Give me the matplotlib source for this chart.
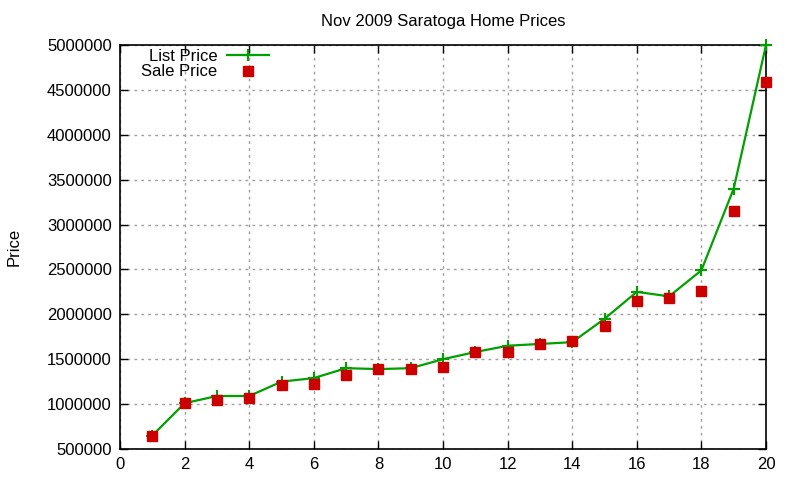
"""Saratoga home prices, Nov 2009"""
import matplotlib
matplotlib.use('Agg')
import matplotlib.pyplot as plt
import matplotlib.ticker as ticker

plt.rcParams['font.family'] = ['Liberation Sans', 'DejaVu Sans']

homes = list(range(1, 21))
list_price = [650000, 1010000, 1090000, 1090000, 1250000, 1290000, 1400000, 1390000, 1400000, 1500000,
              1580000, 1650000, 1670000, 1690000, 1950000, 2250000, 2200000, 2490000, 3400000, 5000000]
sale_price = [645000, 1010000, 1045000, 1070000, 1213000, 1225000, 1325000, 1390000, 1390000, 1415000,
              1580000, 1580000, 1670000, 1700000, 1870000, 2150000, 2180000, 2260000, 3150000, 4590000]

GREEN = '#00a000'
RED = '#cc0000'


def plot_prices():
	fig = plt.figure(figsize=(8, 4.8), dpi=100)
	ax = fig.add_axes([0.15, 0.0646, 0.8075, 0.8417])

	ax.plot(homes, list_price, color=GREEN, lw=1.6, marker='+', ms=9, mew=1.5, label='List Price',
	        clip_on=False, zorder=3)
	ax.plot(homes, sale_price, ls='none', color=RED, marker='s', ms=6.5, label='Sale Price',
	        clip_on=False, zorder=4)

	ax.set_xlim(0, 20)
	ax.set_ylim(500000, 5000000)
	ax.set_xticks(range(0, 21, 2))
	ax.set_yticks(range(500000, 5000001, 500000))
	ax.yaxis.set_major_formatter(ticker.FuncFormatter(lambda v, p: '%d' % v))
	ax.tick_params(direction='in', top=True, right=True, labelsize=12, length=6, width=1, pad=6)

	ax.grid(True, color='#a0a0a0', ls=(0, (2, 3)), lw=1)
	for side in ax.spines.values():
		side.set_linewidth(1.2)

	ax.set_title('Nov 2009 Saratoga Home Prices', fontsize=12, pad=14)
	ax.set_ylabel('Price', fontsize=12, labelpad=18)

	ax.legend(loc='upper left', bbox_to_anchor=(0.015, 1.02), frameon=False, markerfirst=False,
	          fontsize=12, handlelength=2.5, handletextpad=0.6, labelspacing=0.05, borderaxespad=0.3)

	fig.savefig('out.png', dpi=100)
	plt.close(fig)


if __name__ == '__main__':
	plot_prices()
